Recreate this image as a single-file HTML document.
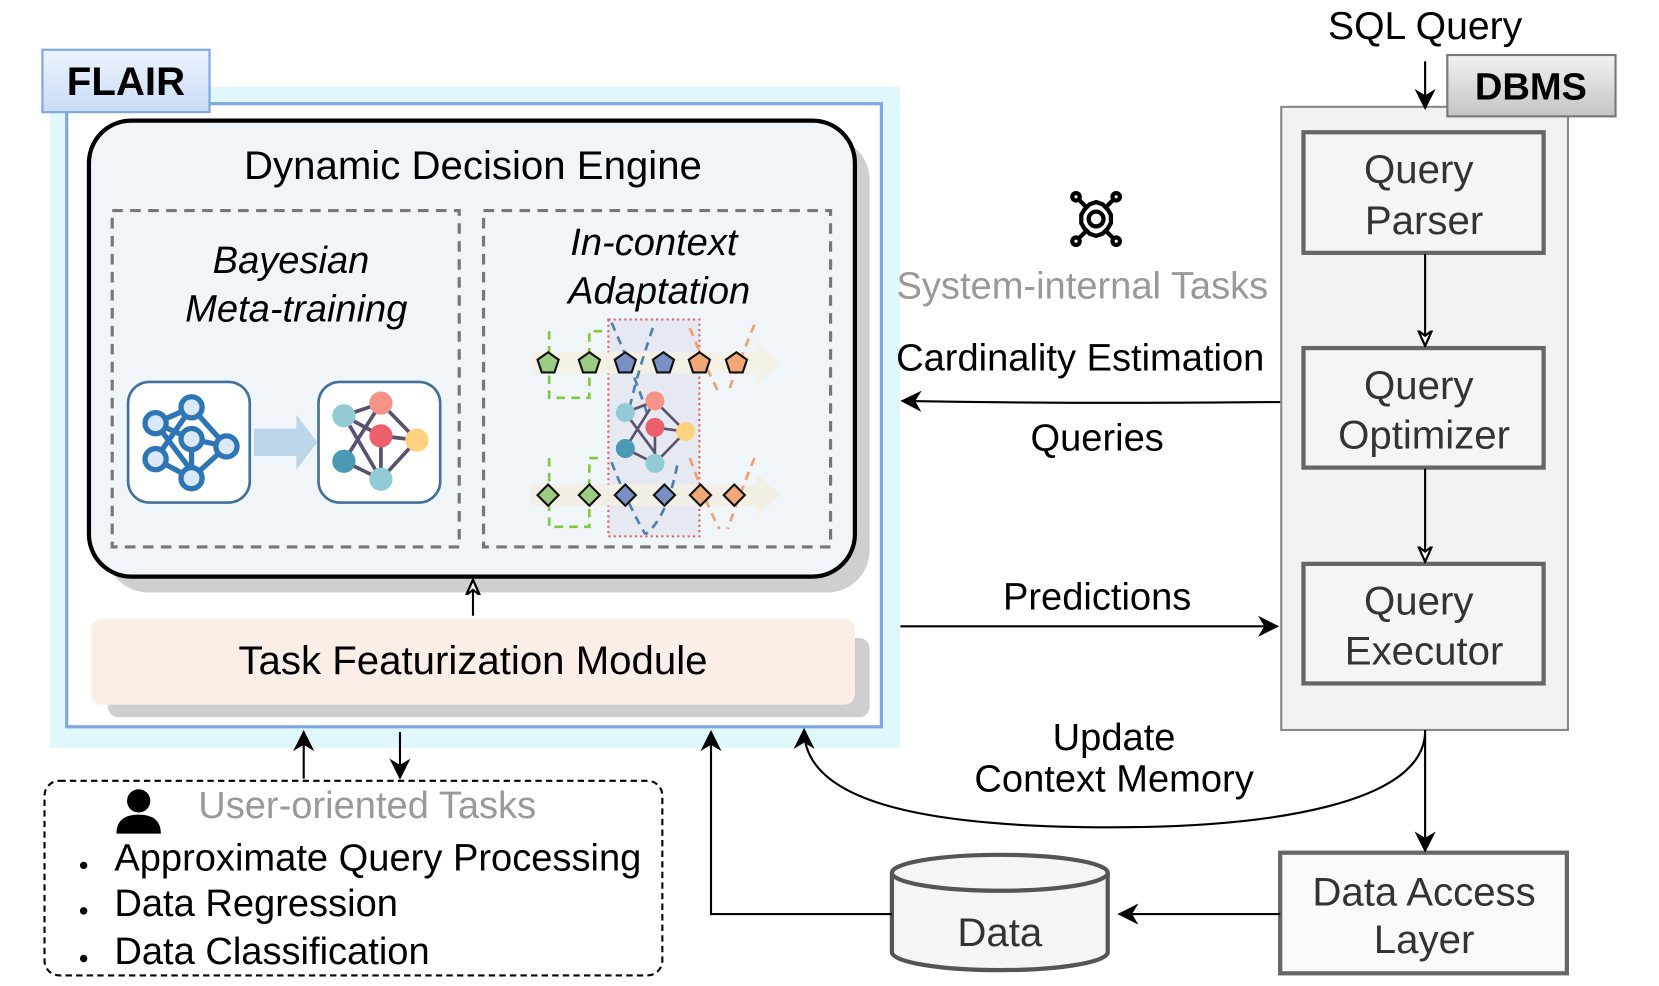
<!DOCTYPE html>
<html><head><meta charset="utf-8"><style>html,body{margin:0;padding:0;background:#fff}svg{display:block}text{font-family:"Liberation Sans",Arial,sans-serif}</style></head>
<body>
<svg width="1659" height="986" viewBox="0 0 1568 932" xmlns="http://www.w3.org/2000/svg">
<defs>
<linearGradient id="fg" x1="0" y1="0" x2="0" y2="1"><stop offset="0" stop-color="#eef4fd"/><stop offset="1" stop-color="#c9dcf6"/></linearGradient>
<linearGradient id="dg" x1="0" y1="0" x2="0" y2="1"><stop offset="0" stop-color="#f2f2f2"/><stop offset="1" stop-color="#c4c4c4"/></linearGradient>
<marker id="af" viewBox="0 0 10 10" refX="9" refY="5" markerWidth="20" markerHeight="20" orient="auto" markerUnits="userSpaceOnUse"><path d="M0,0 L10,5 L0,10 L3,5 z" fill="#000"/></marker>
<marker id="ao" viewBox="0 0 10 10" refX="9" refY="5" markerWidth="16" markerHeight="16" orient="auto" markerUnits="userSpaceOnUse"><path d="M0,1 L9,5 L0,9 L3,5 z" fill="#fff" stroke="#000" stroke-width="1.3"/></marker>
</defs>

<rect x="47" y="82" width="804" height="625" fill="#e0f8fc"/>
<rect x="63" y="98" width="770" height="589" fill="#fff" stroke="#7ea6e0" stroke-width="3"/>
<rect x="40" y="47" width="158" height="59" fill="url(#fg)" stroke="#7ea6e0" stroke-width="2"/>
<text x="119" y="90" font-size="38" font-weight="bold" text-anchor="middle">FLAIR</text>

<rect x="100" y="130" width="722" height="430" rx="40" fill="#cfcfcf"/>
<rect x="84" y="114" width="724" height="431" rx="40" fill="#f0f5fa" stroke="#000" stroke-width="4"/>
<text x="447" y="169" font-size="38" text-anchor="middle">Dynamic Decision Engine</text>
<rect x="106" y="199" width="328" height="318" fill="none" stroke="#777" stroke-width="3" stroke-dasharray="10,7"/>
<rect x="457" y="199" width="328" height="318" fill="none" stroke="#777" stroke-width="3" stroke-dasharray="10,7"/>
<g font-size="36" font-style="italic" text-anchor="middle">
<text x="275" y="258">Bayesian</text>
<text x="280" y="304">Meta-training</text>
<text x="618" y="241">In-context</text>
<text x="623" y="287">Adaptation</text>
</g>

<rect x="121" y="361" width="115" height="114" rx="20" fill="#fff" stroke="#41719c" stroke-width="2.5"/>
<g stroke="#2e75b6" stroke-width="5" fill="#dae8fc">
<line x1="147" y1="400" x2="181" y2="385"/><line x1="147" y1="400" x2="181" y2="445"/><line x1="181" y1="385" x2="214" y2="422"/><line x1="181" y1="385" x2="147" y2="434"/><line x1="147" y1="434" x2="181" y2="452"/><line x1="181" y1="452" x2="214" y2="422"/><line x1="181" y1="415" x2="181" y2="452"/><line x1="181" y1="415" x2="214" y2="422"/><line x1="147" y1="400" x2="181" y2="415"/>
<circle cx="147" cy="400" r="10"/><circle cx="181" cy="385" r="10"/><circle cx="181" cy="415" r="10"/><circle cx="147" cy="434" r="10"/><circle cx="181" cy="452" r="10"/><circle cx="214" cy="422" r="10"/>
</g>
<path d="M240,405 H280 V392 L300,418 L280,444 V431 H240 z" fill="#bcd7ea"/>
<rect x="301" y="361" width="115" height="114" rx="20" fill="#fff" stroke="#41719c" stroke-width="2.5"/>
<g stroke="#5a5070" stroke-width="3.5">
<line x1="325" y1="393" x2="360" y2="381"/><line x1="325" y1="393" x2="360" y2="453"/><line x1="325" y1="393" x2="360" y2="412"/><line x1="360" y1="381" x2="394" y2="416"/><line x1="360" y1="381" x2="325" y2="436"/><line x1="360" y1="412" x2="394" y2="416"/><line x1="360" y1="412" x2="360" y2="453"/><line x1="325" y1="436" x2="360" y2="453"/><line x1="360" y1="453" x2="394" y2="416"/>
</g>
<circle cx="325" cy="393" r="11" fill="#92cad6"/><circle cx="360" cy="381" r="11" fill="#f59486"/><circle cx="360" cy="412" r="11" fill="#ec606e"/><circle cx="394" cy="416" r="11" fill="#ffd27f"/><circle cx="325" cy="436" r="11" fill="#4a9ab6"/><circle cx="360" cy="453" r="11" fill="#92cad6"/>

<rect x="575" y="302" width="86" height="205" fill="#e6e8f2" stroke="#e0605a" stroke-width="2" stroke-dasharray="2,3"/>
<g fill="#f3f0e4" opacity="0.95">
<path d="M502,333 H715 V322 L737,343 L715,364 V353 H502 z"/>
<path d="M502,458 H715 V447 L737,468 L715,489 V478 H502 z"/>
</g>
<g fill="none" stroke-width="2.5" stroke-dasharray="8,6">
<path d="M519,313 V376 H557 V313 H570" stroke="#7fc93a"/>
<path d="M519,433 V498 H557 V433 H570" stroke="#7fc93a"/>
<path d="M578,305 Q600,355 612,392" stroke="#4e7fb0"/><path d="M617,310 Q600,360 593,395" stroke="#4e7fb0"/>
<path d="M578,437 Q595,480 610,505" stroke="#4e7fb0"/><path d="M640,440 Q630,490 610,505" stroke="#4e7fb0"/>
<path d="M652,310 Q668,350 680,372" stroke="#f0a070"/><path d="M713,307 Q695,350 688,372" stroke="#f0a070"/>
<path d="M652,433 Q668,478 680,500" stroke="#f0a070"/><path d="M713,433 Q695,478 688,500" stroke="#f0a070"/>
</g>
<g stroke="#5a5070" stroke-width="2.5">
<line x1="591" y1="390" x2="619" y2="379"/><line x1="591" y1="390" x2="619" y2="428"/><line x1="619" y1="379" x2="648" y2="408"/><line x1="619" y1="379" x2="591" y2="424"/><line x1="619" y1="404" x2="648" y2="408"/><line x1="619" y1="404" x2="619" y2="438"/><line x1="591" y1="424" x2="619" y2="438"/><line x1="619" y1="438" x2="648" y2="408"/>
</g>
<circle cx="591" cy="390" r="9" fill="#92cad6"/><circle cx="619" cy="379" r="9" fill="#f59486"/><circle cx="619" cy="404" r="9" fill="#ec606e"/><circle cx="648" cy="408" r="9" fill="#ffd27f"/><circle cx="591" cy="424" r="9" fill="#4a9ab6"/><circle cx="619" cy="438" r="9" fill="#92cad6"/>
<g stroke="#111" stroke-width="2">
<path d="M518,333 l10,7 l-4,12 h-12 l-4,-12 z" fill="#9ccc84"/>
<path d="M557,333 l10,7 l-4,12 h-12 l-4,-12 z" fill="#9ccc84"/>
<path d="M591,333 l10,7 l-4,12 h-12 l-4,-12 z" fill="#7a90c4"/>
<path d="M627,333 l10,7 l-4,12 h-12 l-4,-12 z" fill="#7a90c4"/>
<path d="M661,333 l10,7 l-4,12 h-12 l-4,-12 z" fill="#f0a878"/>
<path d="M696,333 l10,7 l-4,12 h-12 l-4,-12 z" fill="#f0a878"/>
<path d="M518,458 l10,10 l-10,10 l-10,-10 z" fill="#9ccc84"/>
<path d="M557,458 l10,10 l-10,10 l-10,-10 z" fill="#9ccc84"/>
<path d="M591,458 l10,10 l-10,10 l-10,-10 z" fill="#7a90c4"/>
<path d="M628,458 l10,10 l-10,10 l-10,-10 z" fill="#7a90c4"/>
<path d="M662,458 l10,10 l-10,10 l-10,-10 z" fill="#f0a878"/>
<path d="M694,458 l10,10 l-10,10 l-10,-10 z" fill="#f0a878"/>
</g>

<line x1="447" y1="582" x2="447" y2="548" stroke="#000" stroke-width="2" marker-end="url(#ao)"/>
<rect x="102" y="603" width="720" height="75" rx="10" fill="#cfcfcf"/>
<rect x="86" y="585" width="722" height="81" rx="10" fill="#fbeee6"/>
<text x="447" y="637" font-size="38" text-anchor="middle">Task Featurization Module</text>

<text x="1347" y="37" font-size="37" text-anchor="middle">SQL Query</text>
<rect x="1211" y="101" width="271" height="589" fill="#f2f2f2" stroke="#888" stroke-width="2"/>
<rect x="1368" y="52" width="159" height="58" fill="url(#dg)" stroke="#777" stroke-width="2"/>
<text x="1447" y="94" font-size="36" font-weight="bold" text-anchor="middle">DBMS</text>
<line x1="1347" y1="58" x2="1347" y2="102" stroke="#000" stroke-width="2" marker-end="url(#af)"/>
<g fill="#f5f5f5" stroke="#666" stroke-width="4">
<rect x="1232" y="125" width="227" height="114"/><rect x="1232" y="329" width="227" height="113"/><rect x="1232" y="533" width="227" height="113"/>
<rect x="1210" y="806" width="271" height="114" fill="#f9f9f9"/>
</g>
<g font-size="38" text-anchor="middle" fill="#333">
<text x="1341" y="173">Query</text><text x="1346" y="221">Parser</text>
<text x="1341" y="377">Query</text><text x="1346" y="424">Optimizer</text>
<text x="1341" y="581">Query</text><text x="1346" y="628">Executor</text>
<text x="1346" y="856">Data Access</text><text x="1346" y="901">Layer</text>
</g>
<line x1="1347" y1="240" x2="1347" y2="327" stroke="#000" stroke-width="2" marker-end="url(#ao)"/>
<line x1="1347" y1="443" x2="1347" y2="531" stroke="#000" stroke-width="2" marker-end="url(#ao)"/>

<g fill="none" stroke="#000" stroke-width="4">
<path d="M1036,191 l6,2 l5,5 l3,5 v8 l-3,5 l-5,5 l-6,2 l-6,-2 l-5,-5 l-3,-5 v-8 l3,-5 l5,-5 z"/>
<circle cx="1036" cy="207" r="7"/>
<path d="M1027,196 L1020,189 M1045,196 L1052,189 M1027,218 L1020,225 M1045,218 L1052,225"/>
<circle cx="1017" cy="186" r="3.5"/><circle cx="1055" cy="186" r="3.5"/><circle cx="1017" cy="228" r="3.5"/><circle cx="1055" cy="228" r="3.5"/>
</g>
<g font-size="36" text-anchor="middle">
<text x="1023" y="282" fill="#999">System-internal Tasks</text>
<text x="1021" y="350">Cardinality Estimation</text>
<text x="1037" y="426">Queries</text>
<text x="1037" y="576">Predictions</text>
<text x="1053" y="709">Update</text>
<text x="1053" y="748">Context Memory</text>
</g>
<path d="M1210,380 Q1030,382 853,379" fill="none" stroke="#000" stroke-width="2" marker-end="url(#af)"/>
<line x1="851" y1="592" x2="1207" y2="592" stroke="#000" stroke-width="2" marker-end="url(#af)"/>
<path d="M1347,692 C1345,760 1200,782 1050,782 C880,782 760,760 760,690" fill="none" stroke="#000" stroke-width="2" marker-end="url(#af)"/>
<line x1="1347" y1="690" x2="1347" y2="804" stroke="#000" stroke-width="2" marker-end="url(#af)"/>
<line x1="1210" y1="864" x2="1058" y2="864" stroke="#000" stroke-width="2" marker-end="url(#af)"/>

<path d="M843,825 V900 A102,17 0 0 0 1047,900 V825" fill="#f5f5f5" stroke="#555" stroke-width="4"/>
<ellipse cx="945" cy="825" rx="102" ry="17" fill="#f5f5f5" stroke="#555" stroke-width="4"/>
<text x="945" y="894" font-size="38" text-anchor="middle" fill="#333">Data</text>
<path d="M843,864 H672 V692" fill="none" stroke="#000" stroke-width="2" marker-end="url(#af)"/>

<rect x="42" y="738" width="584" height="184" rx="14" fill="none" stroke="#000" stroke-width="2" stroke-dasharray="6,4"/>
<line x1="287" y1="736" x2="287" y2="692" stroke="#000" stroke-width="2" marker-end="url(#af)"/>
<line x1="378" y1="692" x2="378" y2="735" stroke="#000" stroke-width="2" marker-end="url(#af)"/>
<circle cx="131" cy="757" r="11" fill="#000"/>
<path d="M110,788 Q110,770 131,770 Q152,770 152,788 z" fill="#000"/>
<text x="347" y="773" font-size="36" text-anchor="middle" fill="#999">User-oriented Tasks</text>
<g font-size="36">
<text x="108" y="823">Approximate Query Processing</text>
<text x="108" y="866">Data Regression</text>
<text x="108" y="911">Data Classification</text>
</g>
<circle cx="79" cy="818" r="3.5" fill="#000"/><circle cx="79" cy="861" r="3.5" fill="#000"/><circle cx="79" cy="906" r="3.5" fill="#000"/>
</svg>
</body></html>
